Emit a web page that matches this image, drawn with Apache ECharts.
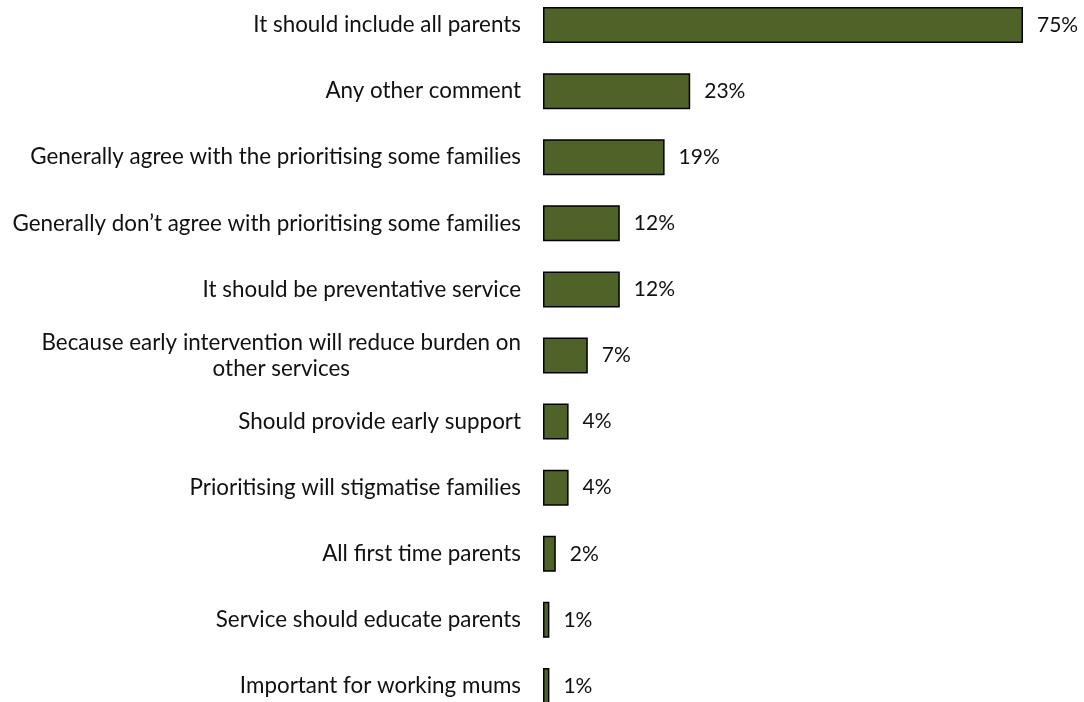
<!DOCTYPE html>
<html>
<head>
<meta charset="utf-8">
<script src="https://cdn.jsdelivr.net/npm/echarts@6/dist/echarts.min.js"></script>
<style>
  html, body { margin: 0; padding: 0; background: #fff; }
  #chart { width: 1084px; height: 702px; }
</style>
</head>
<body>
<div id="chart"></div>
<script>
// categories top to bottom
const categories = [
  'It should include all parents',
  'Any other comment',
  'Generally agree with the prioritising some families',
  'Generally don\u2019t agree with prioritising some families',
  'It should be preventative service',
  'Because early intervention will reduce burden on\nother services',
  'Should provide early support',
  'Prioritising will stigmatise families',
  'All first time parents',
  'Service should educate parents',
  'Important for working mums'
]
const values = [75, 23, 19, 12, 12, 7, 4, 4, 2, 1, 1]

var chartDom = document.getElementById('chart')
var myChart = echarts.init(chartDom)

const option = {
  animation: false,
  textStyle: { fontFamily: 'Lato' },
  grid: {
    left: 543,
    right: 29,
    top: -8,
    bottom: -17,
    outerBoundsMode: 'none',
    containLabel: false
  },
  xAxis: {
    type: 'value',
    min: 0,
    max: 80,
    show: false
  },
  yAxis: {
    type: 'category',
    inverse: true,
    data: categories,
    axisLine: { show: false },
    axisTick: { show: false },
    axisLabel: {
      margin: 22,
      color: '#111',
      fontSize: 22.4,
      fontFamily: 'Lato',
      lineHeight: 26,
      formatter: (val) => {
        // multi-line labels centred against each other
        return val.split('\n').map(s => '{c|' + s + '}').join('\n')
      },
      rich: {
        c: { align: 'center', fontSize: 22.4, fontFamily: 'Lato', color: '#111', lineHeight: 26 }
      }
    }
  },
  series: [
    {
      type: 'bar',
      data: values,
      barWidth: 36,
      itemStyle: {
        color: '#4F6228',
        borderColor: '#000',
        borderWidth: 1.5
      },
      label: {
        show: true,
        position: 'right',
        distance: 14,
        formatter: '{c}%',
        color: '#111',
        fontSize: 21,
        fontFamily: 'Lato'
      }
    }
  ]
}
option && myChart.setOption(option)
</script>
</body>
</html>
